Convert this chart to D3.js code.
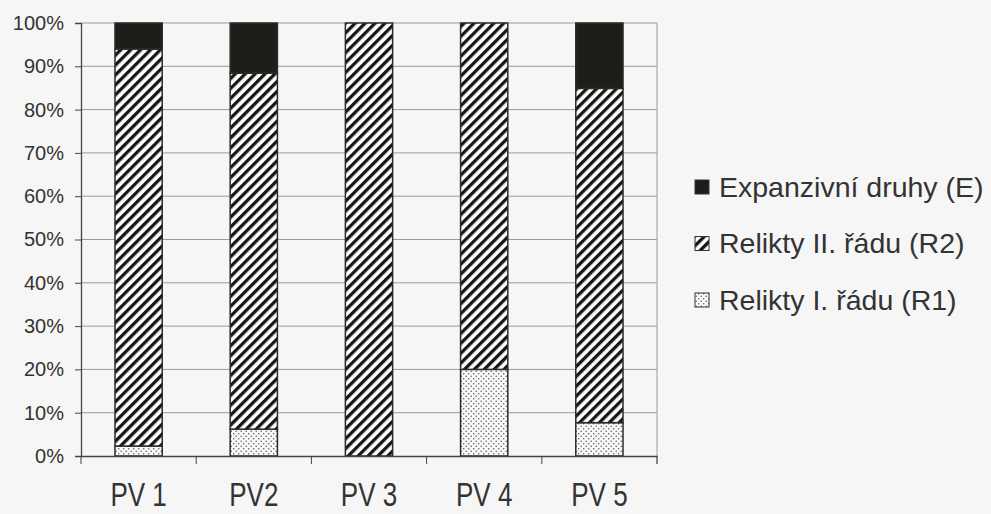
<!DOCTYPE html>
<html><head><meta charset="utf-8">
<script src="https://cdn.jsdelivr.net/npm/d3@7"></script>
<style>
html,body{margin:0;padding:0;background:#f5f6f5;}
svg{display:block;font-family:Arial,"Liberation Sans",sans-serif;}
</style></head>
<body>
<svg id="chart" width="991" height="514"></svg>
<script>
const categories = ["PV 1","PV2","PV 3","PV 4","PV 5"];
const seriesNames = ["Relikty I. řádu (R1)","Relikty II. řádu (R2)","Expanzivní druhy (E)"];
const r1 = [2.3, 6.2, 0, 20, 7.7];
const r2 = [91.7, 82.2, 100, 80, 77.2];
const e  = [6.0, 11.6, 0, 0, 15.1];
const yTicks = [0,10,20,30,40,50,60,70,80,90,100];
const legendOrder = ["Expanzivní druhy (E)","Relikty II. řádu (R2)","Relikty I. řádu (R1)"];

const svg = d3.select("#chart");
const L = 81, R = 657, T = 23, B = 456;

const defs = svg.append("defs");
const hp = 7;
const hatch = defs.append("pattern").attr("id","hatch").attr("patternUnits","userSpaceOnUse")
  .attr("width",hp).attr("height",hp).attr("patternTransform","rotate(45)");
hatch.append("rect").attr("width",hp).attr("height",hp).attr("fill","#ffffff");
hatch.append("rect").attr("x",0).attr("y",0).attr("width",3.3).attr("height",hp).attr("fill","#151713");
const dots = defs.append("pattern").attr("id","dots").attr("patternUnits","userSpaceOnUse")
  .attr("width",5).attr("height",5);
dots.append("rect").attr("width",5).attr("height",5).attr("fill","#f8f8f6");
dots.append("circle").attr("cx",1.2).attr("cy",1.2).attr("r",0.75).attr("fill","#555");
dots.append("circle").attr("cx",3.7).attr("cy",3.7).attr("r",0.75).attr("fill","#555");

const fills = {"Relikty I. řádu (R1)":"url(#dots)","Relikty II. řádu (R2)":"url(#hatch)","Expanzivní druhy (E)":"#1c1e1a"};

const x = d3.scaleBand().domain(categories).range([L,R]).paddingInner(0.59).paddingOuter(0.295);
const y = d3.scaleLinear().domain([0,100]).range([B,T]);

// gridlines
svg.append("g").selectAll("line").data(yTicks.filter(d=>d>0)).join("line")
  .attr("x1",L).attr("x2",R).attr("y1",d=>y(d)).attr("y2",d=>y(d))
  .attr("stroke","#9a9c98").attr("stroke-width",1);
// right border
svg.append("line").attr("x1",R).attr("x2",R).attr("y1",T).attr("y2",B+8).attr("stroke","#9a9c98");

// data stacking
const table = categories.map((c,i)=>({cat:c,"Relikty I. řádu (R1)":r1[i],"Relikty II. řádu (R2)":r2[i],"Expanzivní druhy (E)":e[i]}));
const stack = d3.stack().keys(seriesNames)(table);
svg.append("g").selectAll("g").data(stack).join("g")
  .attr("fill",s=>fills[s.key])
  .selectAll("rect").data(d=>d.filter(p=>p[1]-p[0]>0)).join("rect")
  .attr("x",d=>x(d.data.cat)).attr("width",x.bandwidth())
  .attr("y",d=>y(d[1])).attr("height",d=>y(d[0])-y(d[1]))
  .attr("stroke","#2a2c28").attr("stroke-width",1.5);

// y axis
const yAxis = d3.axisLeft(y).tickValues(yTicks).tickFormat(d=>d+"%").tickSize(6).tickPadding(11);
const gy = svg.append("g").attr("transform",`translate(${L},0)`).call(yAxis);
gy.select(".domain").attr("stroke","#444").attr("stroke-width",1.3);
gy.selectAll(".tick line").attr("stroke","#444");
gy.selectAll("text").attr("font-size",20).attr("fill","#333").attr("font-family","Arial, 'Liberation Sans', sans-serif");

// x axis
const gx = svg.append("g").attr("transform",`translate(0,${B})`).call(d3.axisBottom(x).tickSize(0).tickPadding(21));
gx.select(".domain").attr("stroke","#444").attr("stroke-width",1.3);
gx.selectAll("text").attr("font-size",26).attr("fill","#333").attr("font-family","Arial, 'Liberation Sans', sans-serif")
  .attr("transform","scale(1,1.28)");
// category boundary ticks
const step = x.step();
svg.append("g").selectAll("line").data(d3.range(categories.length+1)).join("line")
  .attr("x1",i=>L+i*step).attr("x2",i=>L+i*step).attr("y1",B).attr("y2",B+8)
  .attr("stroke","#444");

// legend
const lg = svg.append("g").selectAll("g").data(legendOrder).join("g")
  .attr("transform",(d,i)=>`translate(695,${187+i*56.5})`);
lg.append("rect").attr("x",0).attr("y",-7).attr("width",14).attr("height",14)
  .attr("fill",d=>fills[d]).attr("stroke","#333").attr("stroke-width",1);
lg.append("text").attr("x",24).attr("y",0).attr("dy","0.35em").attr("font-size",28.5).attr("fill","#333")
  .text(d=>d);
</script>
</body></html>
